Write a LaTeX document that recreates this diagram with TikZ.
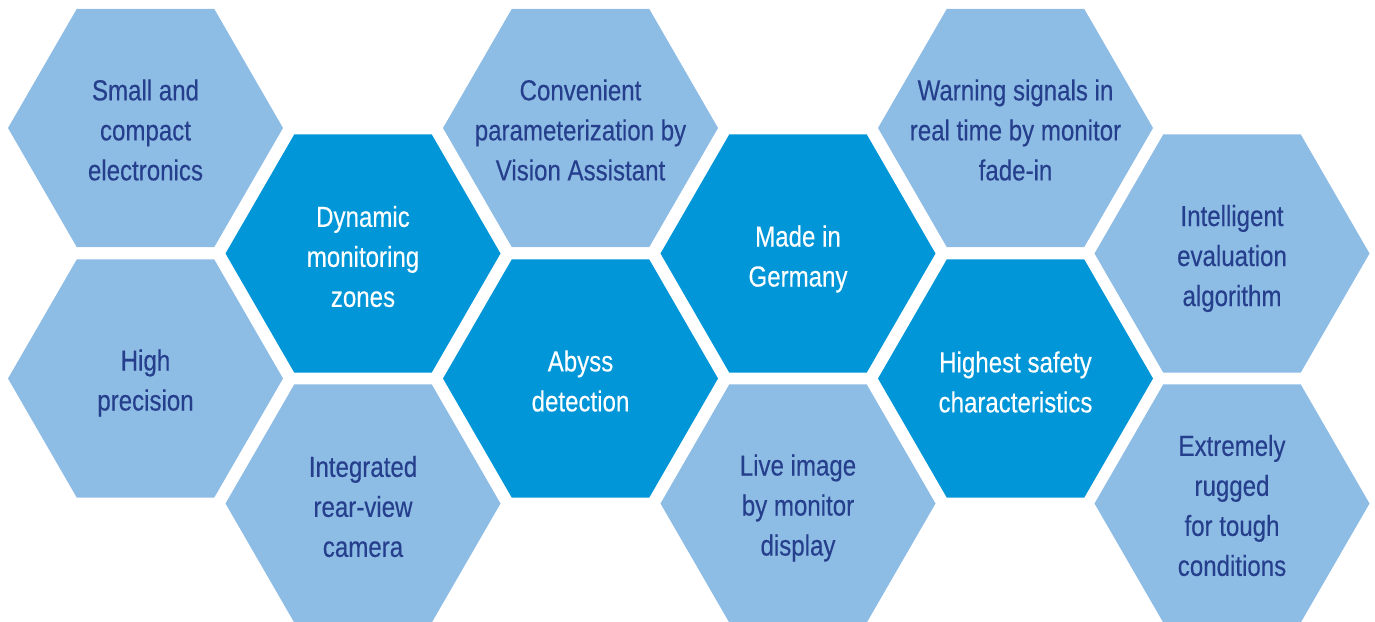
\documentclass[tikz,border=0pt]{standalone}
\usepackage{fontspec}
\setmainfont{Liberation Sans}[FakeStretch=0.83,FakeBold=0.3]
\definecolor{lightblue}{RGB}{141,188,229}
\definecolor{darkblue}{RGB}{0,150,216}
\definecolor{navytext}{RGB}{38,63,140}
\newcommand{\hexshape}[3]{%
  \fill[#1] (#2,#3) +(0:137.5) -- +(60:137.5) -- +(120:137.5) -- +(180:137.5) -- +(240:137.5) -- +(300:137.5) -- cycle;}
\begin{document}
\begin{tikzpicture}[x=1pt,y=-1pt,
  lighttxt/.style={align=center,text=navytext,font=\fontsize{29}{40}\selectfont,inner sep=0pt},
  darktxt/.style={align=center,text=white,font=\fontsize{29}{40}\selectfont,inner sep=0pt}]
\useasboundingbox (0,0) rectangle (1375,621);
\clip (0,0) rectangle (1375,621);
% column 0
\hexshape{lightblue}{145.5}{128}
\node[lighttxt] (small) at (145.5,130) {Small and\\compact\\electronics};
\hexshape{lightblue}{145.5}{378.5}
\node[lighttxt] (precision) at (145.5,383) {High\\precision};
% column 1
\hexshape{darkblue}{363}{253.5}
\node[darktxt] (dynamic) at (363,256.5) {Dynamic\\monitoring\\zones};
\hexshape{lightblue}{363}{503.5}
\node[lighttxt] (camera) at (363,506.5) {Integrated\\rear-view\\camera};
% column 2
\hexshape{lightblue}{580.5}{128}
\node[lighttxt] (convenient) at (580.5,130) {Convenient\\parameterization by\\Vision Assistant};
\hexshape{darkblue}{580.5}{378.5}
\node[darktxt] (abyss) at (580.5,381) {Abyss\\detection};
% column 3
\hexshape{darkblue}{798}{253.5}
\node[darktxt] (germany) at (798,259) {Made in\\Germany};
\hexshape{lightblue}{798}{503.5}
\node[lighttxt] (live) at (798,508) {Live image\\by monitor\\display};
% column 4
\hexshape{lightblue}{1015.5}{128}
\node[lighttxt] (warning) at (1015.5,130) {Warning signals in\\real time by monitor\\fade-in};
\hexshape{darkblue}{1015.5}{378.5}
\node[darktxt] (safety) at (1015.5,382) {Highest safety\\characteristics};
% column 5
\hexshape{lightblue}{1232}{253.5}
\node[lighttxt] (intelligent) at (1232,258.5) {Intelligent\\evaluation\\algorithm};
\hexshape{lightblue}{1232}{503.5}
\node[lighttxt] (rugged) at (1232,505.5) {Extremely\\rugged\\for tough\\conditions};
\end{tikzpicture}
\end{document}
